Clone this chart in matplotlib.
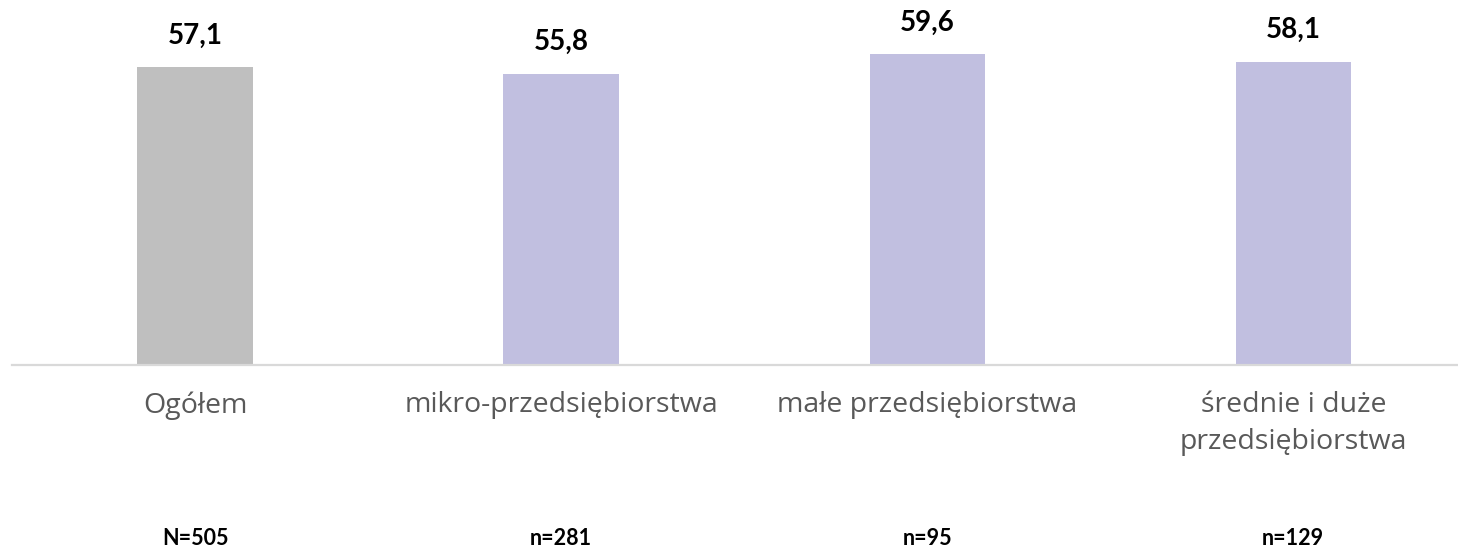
import matplotlib.pyplot as plt

categories = ["Ogółem", "mikro-przedsiębiorstwa", "małe przedsiębiorstwa",
              "średnie i duże\nprzedsiębiorstwa"]
values = [57.1, 55.8, 59.6, 58.1]
sample_sizes = ["N=505", "n=281", "n=95", "n=129"]
bar_colors = ["#BFBFBF", "#C1BFE0", "#C1BFE0", "#C1BFE0"]

plt.rcParams['font.family'] = ['Lato', 'DejaVu Sans']

fig = plt.figure(figsize=(14.58, 5.58), dpi=100)
# baseline sits ~365 px from top, axis line runs from x=12 to the right edge
ax = fig.add_axes([12 / 1458, (558 - 365) / 558, 1 - 12 / 1458, 365 / 558])

x = range(len(categories))
bars = ax.bar(x, values, width=0.315, color=bar_colors)

for xi, v in zip(x, values):
    ax.text(xi, v + 3.6, f"{v:.1f}".replace(".", ","), ha='center', va='bottom',
            fontsize=20, fontweight='bold', color='black')

ax.set_xlim(-0.5, 3.45)
ax.set_ylim(0, 70)

ax.set_xticks(list(x))
ax.set_xticklabels(categories, fontsize=20.5, color='#595959', linespacing=1.42,
                   family=['Open Sans', 'DejaVu Sans'])
ax.tick_params(axis='x', length=0, pad=19)
ax.set_yticks([])

for side in ['top', 'right', 'left']:
    ax.spines[side].set_visible(False)
ax.spines['bottom'].set_color('#D9D9D9')
ax.spines['bottom'].set_linewidth(1.6)

for xi, n in zip(x, sample_sizes):
    ax.text(xi, -173 / 5.214, n, ha='center', va='center',
            fontsize=15.5, fontweight='bold', color='black')

fig.savefig("out.png", dpi=100)
